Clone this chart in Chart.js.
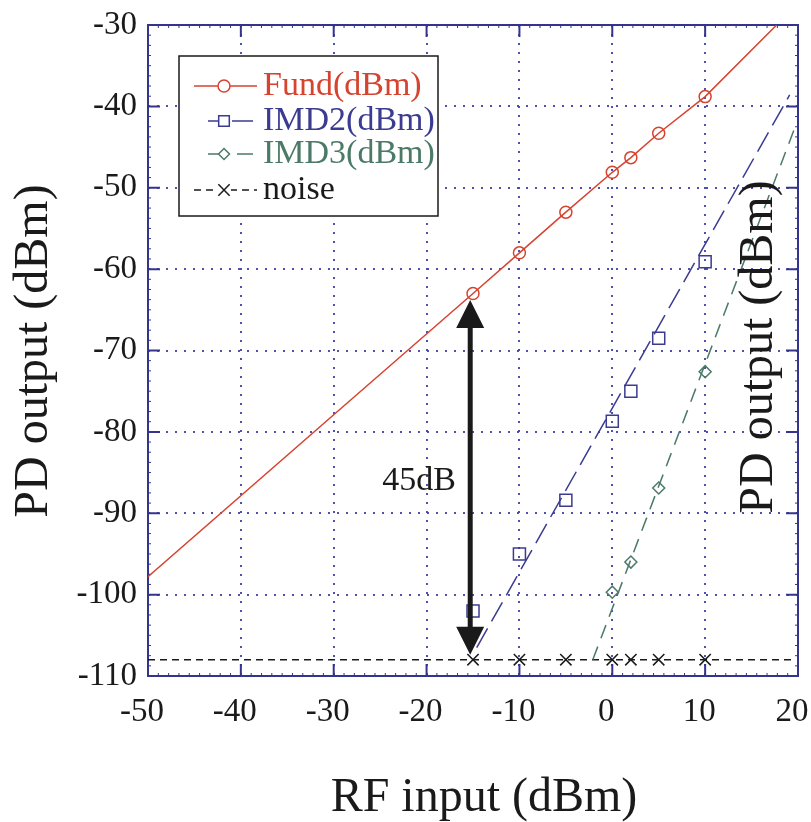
<!DOCTYPE html>
<html>
<head>
<meta charset="utf-8">
<script src="https://cdn.jsdelivr.net/npm/chart.js@4.4.1/dist/chart.umd.min.js"></script>
<style>
  html, body { margin: 0; padding: 0; background: #fff; }
  #wrap { width: 811px; height: 822px; }
</style>
</head>
<body>
<div id="wrap"><canvas id="c" width="811" height="822"></canvas></div>
<script>
// measured points
const xInput   = [-15, -10, -5, 0, 2, 5, 10];
const fundOut  = [-63, -58, -53, -48.1, -46.3, -43.3, -38.8];
const imd2Out  = [-102, -95, -88.4, -78.7, -75, -68.5, -59.1];
const imd3X    = [0, 2, 5, 10];
const imd3Out  = [-99.7, -96, -86.9, -72.6];
const noiseOut = [-108, -108, -108, -108, -108, -108, -108];

// fitted lines
const fundLineX  = [-50, -30, -15, -10, -5, 0, 2, 5, 10, 17.7];
const fundLineY  = [-97.8, -77.9, -63, -58, -53, -48.1, -46.3, -43.3, -38.8, -30];
const imd2LineX  = [-14.6, 19.1];
const imd2LineY  = [-106.5, -38.6];
const imd3LineX  = [-2.1, 19.7];
const imd3LineY  = [-108, -42.5];
const noiseLineX = [-50, 19.5];
const noiseLineY = [-108, -108];

// annotation
const arrowX = -15.3, arrowTop = -63.8, arrowBottom = -107.4;
const gapLabel = '45dB', gapLabelX = -20.8, gapLabelY = -86.1;

const legendItems = [
  { text: 'Fund(dBm)', color: '#d6432f' },
  { text: 'IMD2(dBm)', color: '#3b3b92' },
  { text: 'IMD3(dBm)', color: '#4c7a68' },
  { text: 'noise',     color: '#1a1a1a' }
];

const RED = '#d6432f', BLUE = '#3b3b92', GREEN = '#4c7a68', BLACK = '#1a1a1a';
const AXIS = '#34348c';
const SERIF = '"Liberation Serif", "DejaVu Serif", serif';

const pts = (xs, ys) => xs.map((x, i) => ({ x, y: ys[i] }));

/* frame, ticks, legend, arrow, texts */
const decor = {
  id: 'decor',
  beforeDatasetsDraw(chart) {
    const { ctx, chartArea: a, scales: { x, y } } = chart;
    ctx.save();
    ctx.strokeStyle = AXIS;
    ctx.lineWidth = 2;
    ctx.strokeRect(a.left, a.top, a.right - a.left, a.bottom - a.top);
    // minor ticks
    ctx.lineWidth = 1;
    for (let v = -50; v <= 20; v += 10 / 9) {
      const px = x.getPixelForValue(v);
      ctx.beginPath();
      ctx.moveTo(px, a.bottom); ctx.lineTo(px, a.bottom - 3);
      ctx.moveTo(px, a.top); ctx.lineTo(px, a.top + 3);
      ctx.stroke();
    }
    for (let v = -110; v <= -30; v += 1.25) {
      const py = y.getPixelForValue(v);
      ctx.beginPath();
      ctx.moveTo(a.left, py); ctx.lineTo(a.left + 3, py);
      ctx.moveTo(a.right, py); ctx.lineTo(a.right - 3, py);
      ctx.stroke();
    }
    // major ticks
    ctx.lineWidth = 2;
    for (let v = -40; v < 20; v += 10) {
      const px = x.getPixelForValue(v);
      ctx.beginPath();
      ctx.moveTo(px, a.bottom); ctx.lineTo(px, a.bottom - 12);
      ctx.moveTo(px, a.top); ctx.lineTo(px, a.top + 12);
      ctx.stroke();
    }
    for (let v = -100; v < -30; v += 10) {
      const py = y.getPixelForValue(v);
      ctx.beginPath();
      ctx.moveTo(a.left, py); ctx.lineTo(a.left + 12, py);
      ctx.moveTo(a.right, py); ctx.lineTo(a.right - 12, py);
      ctx.stroke();
    }
    ctx.restore();
  },
  afterDatasetsDraw(chart) {
    const { ctx, chartArea: a, scales: { x, y } } = chart;
    ctx.save();

    // arrow
    const ax = x.getPixelForValue(arrowX);
    const t = y.getPixelForValue(arrowTop);
    const b = y.getPixelForValue(arrowBottom);
    const hh = 28, hw = 14;
    ctx.fillStyle = BLACK;
    ctx.strokeStyle = BLACK;
    ctx.lineWidth = 5;
    ctx.beginPath();
    ctx.moveTo(ax, t + hh - 2); ctx.lineTo(ax, b - hh + 2);
    ctx.stroke();
    ctx.beginPath();
    ctx.moveTo(ax, t); ctx.lineTo(ax - hw, t + hh); ctx.lineTo(ax + hw, t + hh); ctx.closePath();
    ctx.fill();
    ctx.beginPath();
    ctx.moveTo(ax, b); ctx.lineTo(ax - hw, b - hh); ctx.lineTo(ax + hw, b - hh); ctx.closePath();
    ctx.fill();

    ctx.font = '34px ' + SERIF;
    ctx.textAlign = 'center';
    ctx.textBaseline = 'middle';
    ctx.fillText(gapLabel, x.getPixelForValue(gapLabelX), y.getPixelForValue(gapLabelY));

    // legend box
    const lx = a.left + 31, ly = a.top + 31, lw = 259, lh = 160;
    ctx.fillStyle = '#fff';
    ctx.fillRect(lx, ly, lw, lh);
    ctx.strokeStyle = BLACK;
    ctx.lineWidth = 1.5;
    ctx.strokeRect(lx, ly, lw, lh);

    const rows = [ly + 30, ly + 65, ly + 98, ly + 134];
    const sx0 = lx + 15, sx1 = lx + 78, mx = lx + 45;
    const seg = (x0, x1, yy, color, dash) => {
      ctx.save();
      ctx.strokeStyle = color; ctx.lineWidth = 1.5;
      ctx.setLineDash(dash || []);
      ctx.beginPath(); ctx.moveTo(x0, yy); ctx.lineTo(x1, yy); ctx.stroke();
      ctx.restore();
    };
    const mark = (style, r, color, yy) => {
      ctx.save();
      ctx.fillStyle = '#fff'; ctx.strokeStyle = color; ctx.lineWidth = 1.5;
      Chart.helpers.drawPoint(ctx, { pointStyle: style, radius: r, rotation: 0, borderWidth: 1.5 }, mx, yy);
      ctx.restore();
    };
    seg(sx0, sx1, rows[0], RED);
    mark('circle', 6, RED, rows[0]);
    seg(lx + 29, lx + 39, rows[1], BLUE); seg(lx + 53, lx + 74, rows[1], BLUE);
    mark('rect', 7.5, BLUE, rows[1]);
    seg(lx + 29, lx + 40, rows[2], GREEN); seg(lx + 58, lx + 74, rows[2], GREEN);
    mark('rectRot', 5.5, GREEN, rows[2]);
    seg(sx0, sx1, rows[3], BLACK, [7, 5]);
    ctx.fillStyle = '#fff'; ctx.fillRect(mx - 7, rows[3] - 3, 14, 6);
    mark('crossRot', 8, BLACK, rows[3]);

    ctx.font = '34px ' + SERIF;
    ctx.textAlign = 'left';
    legendItems.forEach((it, i) => {
      ctx.fillStyle = it.color;
      ctx.fillText(it.text, lx + 84, rows[i]);
    });

    // axis titles
    ctx.fillStyle = BLACK;
    ctx.font = '48px ' + SERIF;
    ctx.textAlign = 'center';
    ctx.fillText('RF input (dBm)', 484, 798);
    ctx.save();
    ctx.translate(34, 351);
    ctx.rotate(-Math.PI / 2);
    ctx.fillText('PD output (dBm)', 0, 0);
    ctx.restore();
    ctx.save();
    ctx.translate(759, 347);
    ctx.rotate(-Math.PI / 2);
    ctx.fillText('PD output (dBm)', 0, 0);
    ctx.restore();

    ctx.restore();
  }
};

new Chart(document.getElementById('c'), {
  type: 'scatter',
  data: {
    datasets: [
      { data: pts(fundLineX, fundLineY), showLine: true, borderColor: RED, borderWidth: 1.5, pointRadius: 0 },
      { data: pts(xInput, fundOut), showLine: false, pointStyle: 'circle', pointRadius: 6,
        borderColor: RED, backgroundColor: 'rgba(0,0,0,0)', pointBorderWidth: 1.5 },
      { data: pts(imd2LineX, imd2LineY), showLine: true, borderColor: BLUE, borderWidth: 1.5,
        borderDash: [22, 8], pointRadius: 0 },
      { data: pts(xInput, imd2Out), showLine: false, pointStyle: 'rect', pointRadius: 8.5,
        borderColor: BLUE, backgroundColor: 'rgba(0,0,0,0)', pointBorderWidth: 1.5 },
      { data: pts(imd3LineX, imd3LineY), showLine: true, borderColor: GREEN, borderWidth: 1.5,
        borderDash: [14, 9], pointRadius: 0 },
      { data: pts(imd3X, imd3Out), showLine: false, pointStyle: 'rectRot', pointRadius: 6,
        borderColor: GREEN, backgroundColor: 'rgba(0,0,0,0)', pointBorderWidth: 1.5 },
      { data: pts(noiseLineX, noiseLineY), showLine: true, borderColor: BLACK, borderWidth: 1.5,
        borderDash: [7, 5], pointRadius: 0 },
      { data: pts(xInput, noiseOut), showLine: false, pointStyle: 'crossRot', pointRadius: 8,
        borderColor: BLACK, pointBorderWidth: 1.5 }
    ]
  },
  options: {
    responsive: false,
    animation: false,
    layout: { padding: { left: 0, top: 25, right: 13, bottom: 0 } },
    plugins: { legend: { display: false }, tooltip: { enabled: false } },
    scales: {
      x: {
        type: 'linear', min: -50, max: 20,
        ticks: { stepSize: 10, padding: 17, color: BLACK, maxRotation: 0, labelOffset: -6,
                 font: { family: SERIF, size: 33 } },
        grid: { color: 'rgba(70,70,170,0.95)', lineWidth: 2, drawTicks: false },
        border: { display: false, dash: [2, 7] },
        afterFit(s) { s.height = 146; s.paddingLeft = 0; s.paddingRight = 0; }
      },
      y: {
        type: 'linear', min: -110, max: -30,
        ticks: { stepSize: 10, padding: 11, color: BLACK,
                 font: { family: SERIF, size: 33 } },
        grid: { color: 'rgba(70,70,170,0.95)', lineWidth: 2, drawTicks: false },
        border: { display: false, dash: [2, 7] },
        afterFit(s) { s.width = 148; s.paddingTop = 0; s.paddingBottom = 0; }
      }
    }
  },
  plugins: [decor]
});
</script>
</body>
</html>
